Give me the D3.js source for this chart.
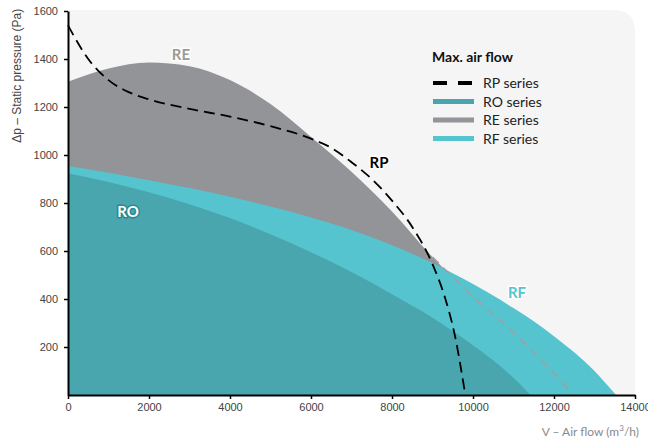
<!DOCTYPE html>
<meta charset="utf-8">
<style>
body { margin: 0; background: #fff; }
svg { font-family: Lato, "Open Sans", sans-serif; }
.axis path, .axis line { stroke: #000; }
.axis text { fill: #444; font-size: 11px; }
</style>
<body>
<script src="https://d3js.org/d3.v7.min.js"></script>
<script>
// curves: airflow (m3/h) and pressure (Pa)
var reFlow = [0, 1000, 2000, 3000, 4000, 5000, 6000, 7000, 8000, 9000, 10000, 11000, 12000, 12470];
var rePres = [1305, 1360, 1385, 1370, 1312, 1212, 1075, 930, 765, 575, 410, 260, 90, 0];

var rfFlow = [0, 1000, 2000, 3000, 4000, 5000, 6000, 7000, 8000, 9000, 10000, 11000, 12000, 13000, 13530];
var rfPres = [954, 926, 895, 862, 826, 785, 740, 688, 624, 550, 462, 362, 245, 100, 0];

var roFlow = [0, 1000, 2000, 3000, 4000, 5000, 6000, 7000, 8000, 9000, 10000, 11000, 11420];
var roPres = [924, 888, 845, 795, 737, 670, 595, 512, 420, 322, 207, 72, 0];

var rpFlow = [0, 500, 1000, 1500, 2000, 3000, 4000, 5000, 6000, 6500, 7000, 7500, 8000, 8500, 9000, 9300, 9550, 9810];
var rpPres = [1540, 1400, 1312, 1262, 1232, 1192, 1160, 1120, 1068, 1030, 970, 900, 810, 700, 545, 410, 250, 0];

var xTicks = [0, 2000, 4000, 6000, 8000, 10000, 12000, 14000];
var yTicks = [200, 400, 600, 800, 1000, 1200, 1400, 1600];

var legendNames = ["RP series", "RO series", "RE series", "RF series"];
var legendColors = ["#000", "#49a6ae", "#939498", "#56c4cf"];

var width = 648, height = 439;
var margin = {left: 68, right: 13, top: 11, bottom: 44};

var svg = d3.select("body").append("svg")
  .attr("width", width)
  .attr("height", height);

var x = d3.scaleLinear().domain([0, 14000]).range([margin.left, width - margin.right]);
var y = d3.scaleLinear().domain([0, 1600]).range([height - margin.bottom, margin.top]);

// plot background with rounded top right corner
var x0 = x(0), x1 = x(14000), y0 = y(0), y1 = y(1600) - 1, r = 22;
svg.append("path")
  .attr("d", "M" + x0 + "," + y0 + "V" + y1 + "H" + (x1 - r) +
    "Q" + x1 + "," + y1 + " " + x1 + "," + (y1 + r) + "V" + y0 + "Z")
  .attr("fill", "#f5f5f5");

function pts(fx, py) {
  return fx.map(function(d, i) { return [d, py[i]]; });
}

var area = d3.area()
  .x(function(d) { return x(d[0]); })
  .y0(y(0))
  .y1(function(d) { return y(d[1]); })
  .curve(d3.curveMonotoneX);

var line = d3.line()
  .x(function(d) { return x(d[0]); })
  .y(function(d) { return y(d[1]); })
  .curve(d3.curveMonotoneX);

svg.append("path").datum(pts(reFlow, rePres)).attr("d", area).attr("fill", "#939498");
svg.append("path").datum(pts(rfFlow, rfPres)).attr("d", area).attr("fill", "#56c4cf");
svg.append("path").datum(pts(roFlow, roPres)).attr("d", area).attr("fill", "#49a6ae");

// hidden part of RE curve
svg.append("path")
  .datum(pts(reFlow, rePres).filter(function(d) { return d[0] >= 9000; }))
  .attr("d", line)
  .attr("fill", "none")
  .attr("stroke", "#a0a0a0")
  .attr("stroke-width", 1.6)
  .attr("stroke-dasharray", "9,6");

// RP dashed line
svg.append("path")
  .datum(pts(rpFlow, rpPres))
  .attr("d", line)
  .attr("fill", "none")
  .attr("stroke", "#000")
  .attr("stroke-width", 1.8)
  .attr("stroke-dasharray", "11,6");

// axes
var xAxis = svg.append("g")
  .attr("class", "axis")
  .attr("transform", "translate(0," + y(0) + ")")
  .call(d3.axisBottom(x).tickValues(xTicks).tickFormat(d3.format("d"))
    .tickSize(4).tickSizeOuter(0).tickPadding(4));
var yAxis = svg.append("g")
  .attr("class", "axis")
  .attr("transform", "translate(" + x(0) + ",0)")
  .call(d3.axisLeft(y).tickValues(yTicks).tickFormat(d3.format("d"))
    .tickSize(4).tickSizeOuter(0).tickPadding(6));
svg.selectAll(".axis path").attr("stroke-width", 2);
svg.selectAll(".axis line").attr("stroke-width", 1.5);

yAxis.append("text")
  .attr("transform", "rotate(-90)")
  .attr("x", -y(1330))
  .attr("y", -47)
  .attr("text-anchor", "middle")
  .attr("fill", "#8a8a8a")
  .style("font-size", "12px")
  .text("Δp – Static pressure (Pa)");

svg.append("text")
  .attr("x", 639)
  .attr("y", 436)
  .attr("text-anchor", "end")
  .attr("fill", "#8a8a8a")
  .style("font-size", "12px")
  .html("V – Air flow (m<tspan baseline-shift='super' font-size='8px'>3</tspan>/h)");

// curve labels
function label(t, px, py, fill, stroke) {
  svg.append("text")
    .attr("x", px).attr("y", py)
    .attr("text-anchor", "middle")
    .attr("fill", fill)
    .attr("stroke", stroke)
    .attr("stroke-width", 3)
    .attr("stroke-linejoin", "round")
    .attr("paint-order", "stroke")
    .style("font-size", "15px")
    .style("font-weight", "bold")
    .text(t);
}
label("RE", 181, 60, "#9a9a9a", "#fff");
label("RO", 128, 217, "#fff", "#2a8891");
label("RP", 379, 168, "#000", "#fff");
label("RF", 517, 298, "#56c4cf", "#fff");

// legend
var lg = svg.append("g").attr("transform", "translate(433,0)");
lg.append("text")
  .attr("x", -1).attr("y", 62)
  .style("font-size", "14px")
  .style("font-weight", "bold")
  .attr("fill", "#111")
  .text("Max. air flow");

var item = lg.selectAll(".item")
  .data(legendNames)
  .enter().append("g")
  .attr("transform", function(d, i) { return "translate(0," + (83 + i * 18.5) + ")"; });

item.append("line")
  .attr("x1", 0).attr("x2", 41)
  .attr("stroke", function(d, i) { return legendColors[i]; })
  .attr("stroke-width", function(d, i) { return i == 0 ? 4 : 5; })
  .attr("stroke-dasharray", function(d, i) { return i == 0 ? "14,11" : null; });

item.append("text")
  .attr("x", 50).attr("y", 5)
  .attr("fill", "#222")
  .style("font-size", "14px")
  .text(function(d) { return d; });
</script>
</body>
